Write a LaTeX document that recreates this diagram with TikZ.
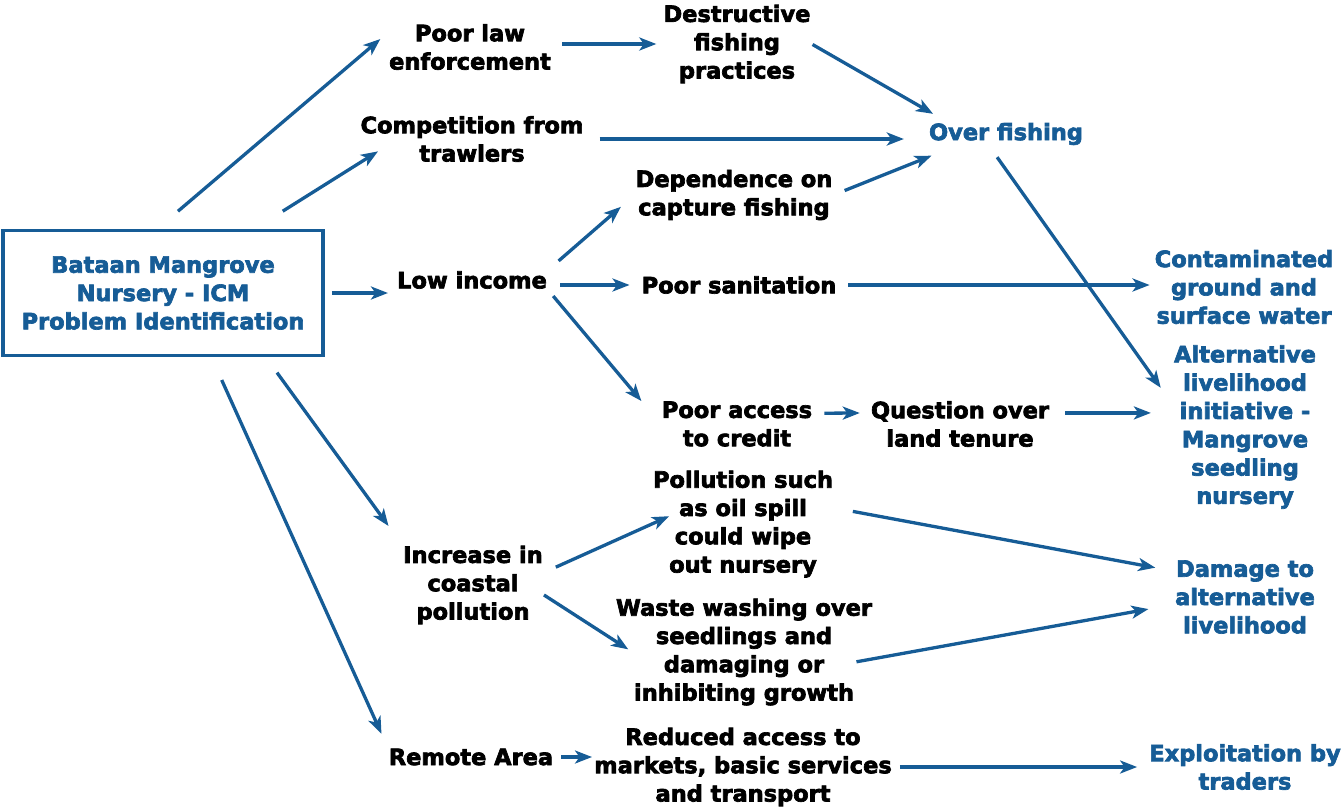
\documentclass[tikz,border=0pt]{standalone}
\usepackage{fontspec}
\setmainfont{DejaVu Sans}[BoldFeatures={FakeBold=3}]
\usetikzlibrary{arrows.meta}
\definecolor{mgblue}{RGB}{22,92,150}
\tikzset{
  txt/.style={font=\bfseries\fontsize{22.5}{28.3}\selectfont, align=center, inner sep=1pt},
  goal/.style={txt, text=mgblue},
  arr/.style={line width=3.3pt, -{Stealth[length=17pt, width=13pt, inset=4.5pt]}, color=mgblue}
}

\begin{document}
\begin{tikzpicture}[x=1pt, y=-1pt]
\useasboundingbox (0,0) rectangle (1343,811);
% main problem box
\node[goal, draw=mgblue, line width=3.5pt, minimum width=320pt, minimum height=125pt] (box) at (163,293)
  {Bataan Mangrove\\Nursery - ICM\\Problem Identification};

% causes
\node[txt] (plaw) at (470,47) {Poor law\\enforcement};
\node[txt] (destr) at (737,44) {Destructive\\fishing\\practices};
\node[txt] (compet) at (472,139) {Competition from\\trawlers};
\node[txt] (depend) at (734,195) {Dependence on\\capture fishing};
\node[txt] (low) at (472,280) {Low income};
\node[txt] (sanit) at (739,285) {Poor sanitation};
\node[txt] (access) at (737,424) {Poor access\\to credit};
\node[txt] (quest) at (960,424) {Question over\\land tenure};
\node[txt] (pollut) at (743,524) {Pollution such\\as oil spill\\could wipe\\out nursery};
\node[txt] (incr) at (473,585) {Increase in\\coastal\\pollution};
\node[txt] (waste) at (744,652) {Waste washing over\\seedlings and\\damaging or\\inhibiting growth};
\node[txt] (remote) at (471,757) {Remote Area};
\node[txt] (reduced) at (743,767) {Reduced access to\\markets, basic services\\and transport};

% effects
\node[goal, inner ysep=12pt] (over) at (1006,134) {Over fishing};
\node[goal] (contam) at (1244,287) {Contaminated\\ground and\\surface water};
\node[goal] (altern) at (1245,427) {Alternative\\livelihood\\initiative -\\Mangrove\\seedling\\nursery};
\node[goal] (damage) at (1245,597) {Damage to\\alternative\\livelihood};
\node[goal] (exploit) at (1245,767) {Exploitation by\\traders};

% arrows from the box
\draw[arr, shorten <=27pt, shorten >=10pt] (box.95) -- (plaw.170);
\draw[arr, shorten <=33pt, shorten >=-22pt] (box.35) -- (compet.south west);
\draw[arr, shorten <=7pt, shorten >=8pt] (box) -- (box -| low.west);
\draw[arr, shorten <=19pt, shorten >=23pt] (box.-32) -- (incr.north west);
\draw[arr, shorten <=25pt, shorten >=15pt] (box.-53) -- (remote.north west);

% fishing
\draw[arr, shorten <=10pt, shorten >=6pt] (plaw.east |- destr) -- (destr);
\draw[arr, shorten <=1pt, shorten >=-6pt] (destr.east) -- (over.north west);
\draw[arr, shorten <=15pt, shorten >=24pt] (compet) -- (compet -| over.west);
\draw[arr, shorten <=12pt, shorten >=-4pt] (depend.east) -- (over.south west);
\draw[arr, shorten <=0pt, shorten >=21pt] (over.-111) -- (altern.163);

% income
\draw[arr, shorten <=14pt, shorten >=18pt] (low.north east) -- (depend.west);
\draw[arr, shorten <=12pt, shorten >=11pt] (sanit -| low.east) -- (sanit);
\draw[arr, shorten <=8pt, shorten >=30pt] (low.south east) -- (access.west);
\draw[arr, shorten <=11pt, shorten >=4pt] (sanit) -- (sanit -| contam.west);
\draw[arr, shorten <=11pt, shorten >=10pt] (access.8) -- (quest.173);
\draw[arr, shorten <=15pt, shorten >=22pt] (quest.7) -- (quest.7 -| altern.west);

% pollution
\draw[arr, shorten <=13pt, shorten >=-19pt] (incr.10) -- (pollut.west);
\draw[arr, shorten <=0pt, shorten >=-16pt] (incr.-8) -- (waste.175);
\draw[arr, shorten <=19pt, shorten >=19pt] (pollut.10) -- (damage.160);
\draw[arr, shorten <=-17pt, shorten >=26pt] (waste.-3) -- (damage.186);

% remote area
\draw[arr, shorten <=7pt, shorten >=1pt] (remote.east) -- (remote.east -| reduced.west);
\draw[arr, shorten <=7pt, shorten >=11pt] (reduced) -- (reduced -| exploit.west);
\end{tikzpicture}
\end{document}
